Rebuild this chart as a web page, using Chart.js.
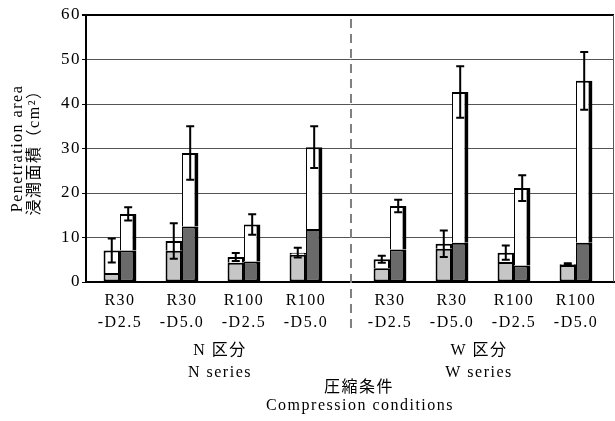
<!DOCTYPE html>
<html>
<head>
<meta charset="utf-8">
<script src="https://cdn.jsdelivr.net/npm/chart.js@4"></script>
<style>
  html, body { margin: 0; background: #fff; }
  #wrap { width: 615px; height: 421px; }
</style>
</head>
<body>
<div id="wrap"><canvas id="chart"></canvas></div>
<script>
const conditions = [
  ['R30', '-D2.5'], ['R30', '-D5.0'], ['R100', '-D2.5'], ['R100', '-D5.0'],
  ['R30', '-D2.5'], ['R30', '-D5.0'], ['R100', '-D2.5'], ['R100', '-D5.0']
];
const leftGray   = [2.0, 7.0, 4.3, 6.1, 3.1, 7.5, 4.5, 3.8];
const leftTotal  = [7.1, 9.2, 5.6, 6.6, 5.1, 8.6, 6.6, 4.0];
const leftErr    = [2.7, 4.0, 0.9, 1.1, 0.8, 3.0, 1.6, 0.2];
const rightDark  = [7.1, 12.5, 4.6, 11.9, 7.3, 8.8, 3.7, 8.8];
const rightTotal = [15.3, 29.0, 12.9, 30.3, 17.1, 42.7, 21.1, 45.2];
const rightErr   = [1.5, 6.0, 2.3, 4.7, 1.4, 5.8, 2.9, 6.5];
const seriesNames = [['N 区分', 'N series'], ['W 区分', 'W series']];
const xTitle = ['圧縮条件', 'Compression conditions'];
const yTitle = ['Penetration area', '浸潤面積（cm²）'];

const FONT = '"Liberation Serif", "Noto Sans CJK JP", serif';
const GAP = 0.355; // extra space between N and W groups
const xPos = conditions.map((c, i) => i + (i >= 4 ? GAP : 0));
const pts = arr => arr.map((v, i) => ({x: xPos[i], y: v}));

const leftWhite = leftTotal.map((t, i) => t - leftGray[i]);
const rightWhite = rightTotal.map((t, i) => t - rightDark[i]);

const errorBars = {
  id: 'errorBars',
  afterDatasetsDraw(chart) {
    const ctx = chart.ctx;
    const y = chart.scales.y;
    const sets = [[1, leftTotal, leftErr], [3, rightTotal, rightErr]];
    ctx.save();
    ctx.strokeStyle = '#000';
    ctx.lineWidth = 2;
    sets.forEach(([di, tot, err]) => {
      chart.getDatasetMeta(di).data.forEach((bar, i) => {
        const top = y.getPixelForValue(tot[i] + err[i]);
        const bot = y.getPixelForValue(tot[i] - err[i]);
        ctx.beginPath();
        ctx.moveTo(bar.x, top); ctx.lineTo(bar.x, bot);
        ctx.moveTo(bar.x - 4, top); ctx.lineTo(bar.x + 4, top);
        ctx.moveTo(bar.x - 4, bot); ctx.lineTo(bar.x + 4, bot);
        ctx.stroke();
      });
    });
    ctx.restore();
  }
};

const decor = {
  id: 'decor',
  beforeLayout(chart) { chart.ctx.letterSpacing = '1.5px'; },
  beforeDraw(chart) { chart.ctx.letterSpacing = '1.5px'; },
  beforeDatasetsDraw(chart) {
    const ctx = chart.ctx;
    const a = chart.chartArea;
    const x = chart.scales.x;
    ctx.save();
    // dashed divider between N and W
    const dx = x.getPixelForValue(3.5 + GAP / 2) + 3;
    ctx.strokeStyle = '#808080';
    ctx.lineWidth = 2;
    ctx.setLineDash([9, 6]);
    ctx.beginPath();
    ctx.moveTo(dx, a.top + 4);
    ctx.lineTo(dx, a.bottom + 48);
    ctx.stroke();
    ctx.setLineDash([]);
    // right frame
    ctx.strokeStyle = '#555';
    ctx.lineWidth = 1;
    ctx.beginPath();
    ctx.moveTo(a.right - 0.5, a.top);
    ctx.lineTo(a.right - 0.5, a.bottom);
    ctx.stroke();
    // group labels
    ctx.fillStyle = '#000';
    ctx.font = '16px ' + FONT;
    ctx.textAlign = 'center';
    ctx.textBaseline = 'middle';
    const nx = (x.getPixelForValue(xPos[0]) + x.getPixelForValue(xPos[3])) / 2 + 7;
    const wx = (x.getPixelForValue(xPos[4]) + x.getPixelForValue(xPos[7])) / 2 - 4;
    [nx, wx].forEach((cx, k) => {
      ctx.fillText(seriesNames[k][0], cx, a.bottom + 69);
      ctx.fillText(seriesNames[k][1], cx, a.bottom + 91);
    });
    ctx.fillText(xTitle[0], dx + 8, a.bottom + 106);
    ctx.fillText(xTitle[1], dx + 9, a.bottom + 124);
    ctx.restore();
  }
};

new Chart('chart', {
  type: 'bar',
  data: {
    datasets: [
      {data: pts(leftGray), stack: 'L', backgroundColor: '#c6c6c6', borderColor: '#000',
       borderWidth: {top: 2, left: 2, right: 2, bottom: 2}, borderSkipped: false},
      {data: pts(leftWhite), stack: 'L', backgroundColor: '#fff', borderColor: '#000',
       borderWidth: {top: 2, left: 2, right: 2, bottom: 0}, borderSkipped: false},
      {data: pts(rightDark), stack: 'R', backgroundColor: '#6a6a6a', borderColor: '#000',
       borderWidth: {top: 2, left: 1, right: 4, bottom: 2}, borderSkipped: false},
      {data: pts(rightWhite), stack: 'R', backgroundColor: '#fff', borderColor: '#000',
       borderWidth: {top: 2, left: 1, right: 4, bottom: 0}, borderSkipped: false}
    ]
  },
  options: {
    responsive: true,
    maintainAspectRatio: false,
    animation: false,
    categoryPercentage: 0.53,
    barPercentage: 1,
    layout: {padding: {top: 15, right: 1, left: 0, bottom: 0}},
    plugins: {legend: {display: false}, tooltip: {enabled: false}},
    scales: {
      x: {
        type: 'linear',
        min: -0.548,
        max: 7.968,
        offset: false,
        grid: {display: false, offset: false},
        border: {color: '#000', width: 2},
        afterBuildTicks: s => { s.ticks = xPos.map(v => ({value: v})); },
        afterFit: s => { s.height = 139; },
        ticks: {
          autoSkip: false,
          maxRotation: 0,
          padding: 0,
          color: '#000',
          font: {family: FONT, size: 16, lineHeight: 1.375},
          callback: (v, i) => conditions[i]
        }
      },
      y: {
        stacked: true,
        min: 0,
        max: 60,
        grid: {
          color: c => c.tick.value === 60 ? '#000' : '#555',
          lineWidth: c => c.tick.value === 60 ? 2 : 1,
          tickColor: '#000',
          tickLength: 4
        },
        border: {color: '#000', width: 2},
        afterFit: s => { s.width = 86; },
        ticks: {
          stepSize: 10,
          padding: 1,
          color: '#000',
          font: {family: FONT, size: 17}
        },
        title: {
          display: true,
          text: yTitle,
          color: '#000',
          font: {family: FONT, size: 16, lineHeight: 1.08},
          padding: {top: 9, bottom: 0}
        }
      }
    }
  },
  plugins: [errorBars, decor]
});
</script>
</body>
</html>
